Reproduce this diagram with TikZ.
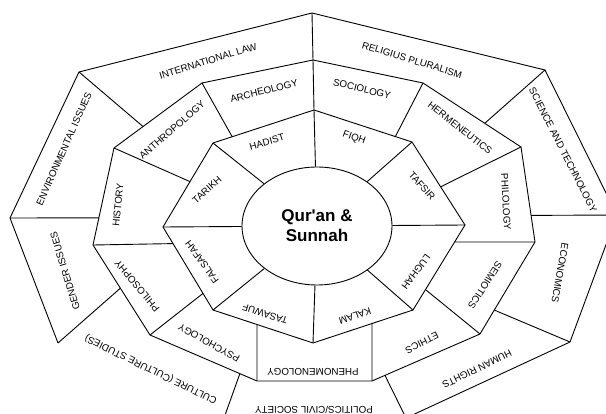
\documentclass[tikz,border=0pt]{standalone}
\usepackage{fontspec}
\setmainfont{Liberation Sans}
\usetikzlibrary{calc,shapes.geometric}

\begin{document}
\begin{tikzpicture}
[x=1pt,y=-1pt,
  ringdecorate/.style={-,line width=0.9pt},
  labeldecorate/.style={inner sep=0pt,font=\fontsize{9.8}{11}\selectfont},
  centredecorate/.style={shape=ellipse,draw,line width=0.9pt,
    minimum width=150pt,minimum height=118pt,inner sep=0pt,align=center,
    font=\bfseries\fontsize{17}{20}\selectfont}]
\useasboundingbox (0,0) rectangle (606,414);
\clip (0,0) rectangle (606,414);
%% corners of the rings
\foreach \nodename/\x/\y in {
  %% inner octagon
  i1/314/110, i2/412/142, i3/465/225, i4/413/310,
  i5/313/343, i6/213/310, i7/163/227, i8/213/143,
  %% middle ring
  m1/202/83, m2/313/60, m3/423/83, m4/521/147, m5/535/242, m6/480/334,
  m7/372/381, m8/257/381, m9/150/335, m10/93/245, m11/114/148,
  %% outer ring
  o1/79/72, o2/312/13, o3/545/70, o4/617/215, o5/570/342, o6/406/418,
  o7/224/418, o8/58/343, o9/10/218}
{
  \coordinate (\nodename) at (\x,\y);
}
%% where the dividing lines end on the ring inside
\foreach \nodename/\from/\to/\part in {
  m1e/i8/i1/0.19, m3e/i1/i2/0.83, m4e/i2/i3/0.54, m5e/i3/i4/0.2,
  m6e/i3/i4/0.76, m7e/i4/i5/0.41, m8e/i5/i6/0.56, m9e/i6/i7/0.2,
  m10e/i6/i7/0.8, m11e/i7/i8/0.54,
  o1e/m11/m1/0.33, o3e/m3/m4/0.63, o4e/m4/m5/0.72, o5e/m5/m6/0.74,
  o6e/m6/m7/0.88, o7e/m8/m9/0.16, o8e/m9/m10/0.52, o9e/m10/m11/0.28}
{
  \coordinate (\nodename) at ($(\from)!\part!(\to)$);
}
%% centre
\node[centredecorate] (quran) at (317,226) {Qur\textquotesingle an \&\\Sunnah};
%% outlines
\draw[ringdecorate] (o8) -- (o9) -- (o1) -- (o2) -- (o3) -- (o4) -- (o5) -- (o6);
\draw[ringdecorate] (m1) -- (m2) -- (m3) -- (m4) -- (m5) -- (m6) -- (m7)
  -- (m8) -- (m9) -- (m10) -- (m11) -- cycle;
\draw[ringdecorate] (i1) -- (i2) -- (i3) -- (i4) -- (i5) -- (i6) -- (i7)
  -- (i8) -- cycle;
%% dividing lines
\path
\foreach \startnode/\endnode in {i1/quran, i2/quran, i3/quran, i4/quran,
  i5/quran, i6/quran, i7/quran, i8/quran,
  m1/m1e, m2/i1, m3/m3e, m4/m4e, m5/m5e, m6/m6e, m7/m7e, m8/m8e,
  m9/m9e, m10/m10e, m11/m11e,
  o1/o1e, o2/m2, o3/o3e, o4/o4e, o5/o5e, o6/o6e, o7/o7e, o8/o8e, o9/o9e}
{
  (\startnode) edge[ringdecorate] (\endnode)
};
%% labels
\foreach \nodename/\x/\y/\angle/\labeltext in {
  %% outer ring
  intlaw/208/61/17/{INTERNATIONAL LAW},
  relplural/412/60/-17/{RELIGIUS PLURALISM},
  scitech/563/150/-63/{SCIENCE AND TECHNOLOGY},
  economics/560/273/-100/{ECONOMICS},
  humrights/477/369/-154/{HUMAN RIGHTS},
  polsociety/314/410/180/{POLITICS/CIVIL SOCIETY},
  culture/151/369/154/{CULTURE (CULTURE STUDIES)},
  gender/65/271/107/{GENDER ISSUES},
  environ/64/149/66/{ENVIRONMENTAL ISSUES},
  %% middle ring
  archeology/264/91/14/{ARCHEOLOGY},
  sociology/362/89/-14/{SOCIOLOGY},
  hermeneutics/460/128/-38/{HERMENEUTICS},
  philology/506/202/-87/{PHILOLOGY},
  semiotics/485/285/-123/{SEMIOTICS},
  ethics/422/343/-153/{ETHICS},
  phenomenology/313/372/180/{PHENOMENOLOGY},
  psychology/209/343/151/{PSYCHOLOGY},
  philosophy/137/286/130/{PHILOSOPHY},
  history/118/205/84/{HISTORY},
  anthropology/172/130/41/{ANTHROPOLOGY},
  %% inner ring
  hadist/267/142/16/{HADIST},
  fiqh/354/138/-20/{FIQH},
  tafsir/422/186/-48/{TAFSIR},
  lughah/416/272/-127/{LUGHAH},
  kalam/355/316/-161/{KALAM},
  tasawuf/265/314/163/{TASAWUF},
  falsafah/202/262/126/{FALSAFAH},
  tarikh/207/190/42/{TARIKH}}
{
  \node[labeldecorate,rotate=\angle] (\nodename) at (\x,\y) {\labeltext};
}
\end{tikzpicture}
\end{document}
